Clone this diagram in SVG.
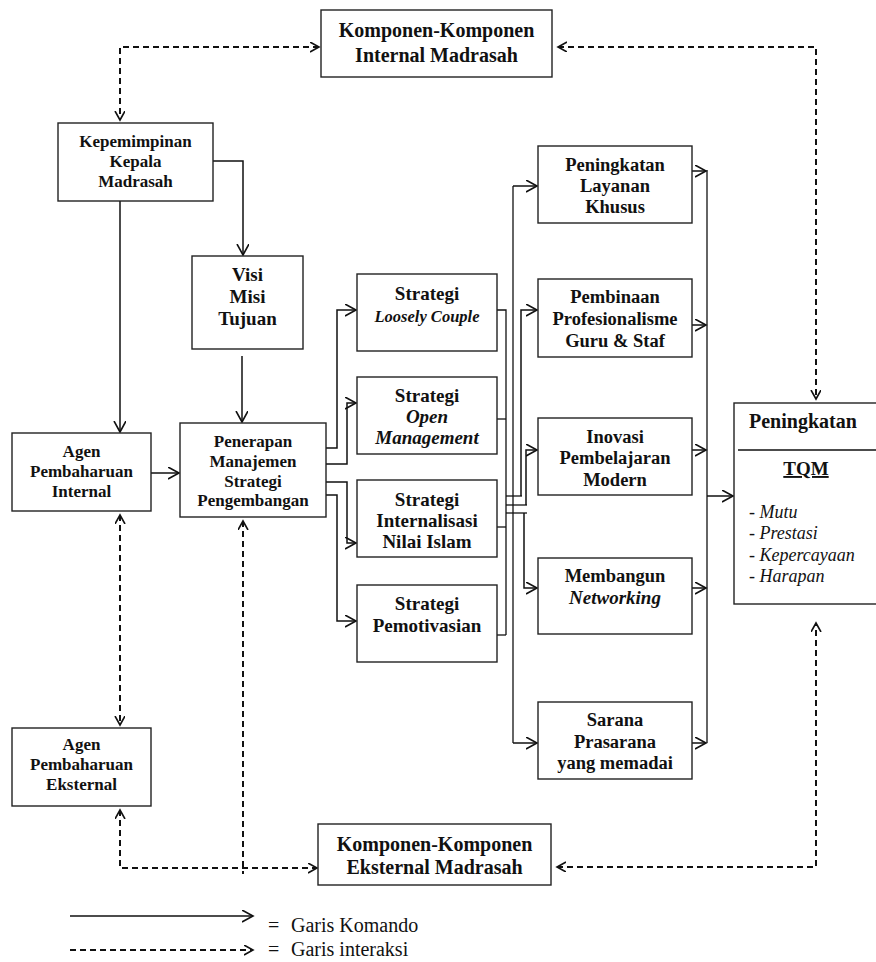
<svg xmlns="http://www.w3.org/2000/svg" width="876" height="962" viewBox="0 0 876 962">
  <style>
    .box { fill: #ffffff; stroke: #222222; stroke-width: 1.4; }
    .t { font-family: "Liberation Serif", "Times New Roman", serif; fill: #111111; text-anchor: middle; font-weight: bold; }
    .s17 { font-size: 17px; }
    .s18 { font-size: 18.5px; }
    .s19 { font-size: 19px; }
    .s20 { font-size: 20px; }
    .it { font-style: italic; }
    .cmd { fill: none; stroke: #111111; stroke-width: 1.5; marker-end: url(#arrow); }
    .ln { fill: none; stroke: #111111; stroke-width: 1.3; }
    .int { fill: none; stroke: #111111; stroke-width: 2; stroke-dasharray: 6 4; marker-start: url(#arrow2); marker-end: url(#arrow2); }
    .legend { font-family: "Liberation Serif", "Times New Roman", serif; font-size: 20px; fill: #111111; }
    .item { font-family: "Liberation Serif", "Times New Roman", serif; font-size: 18px; font-style: italic; fill: #111111; }
  </style>
  <defs>
    <marker id="arrow" markerUnits="userSpaceOnUse" markerWidth="14" markerHeight="14" refX="11" refY="6" orient="auto">
      <path d="M0,0 L11,6 L0,12" fill="none" stroke="#111111" stroke-width="1.6"/>
    </marker>
    <marker id="arrow2" markerUnits="userSpaceOnUse" markerWidth="12" markerHeight="12" refX="9" refY="5" orient="auto-start-reverse">
      <path d="M0,0 L9,5 L0,10" fill="none" stroke="#111111" stroke-width="1.6"/>
    </marker>
  </defs>

  <!-- connectors -->
  <g id="connectors">
    <!-- interaction lines (dashed, both ends) -->
    <path class="int" d="M319,47 H120 V120"/>
    <path class="int" d="M558,47 H816 V399"/>
    <path class="int" d="M120,515 V725"/>
    <path class="int" d="M120,810 V868 H317"/>
    <path class="int" d="M243,521 V874" style="marker-end:none"/>
    <path class="int" d="M557,867 H816 V623"/>

    <!-- command lines -->
    <path class="cmd" d="M213,161 H243 V255"/>
    <path class="cmd" d="M120,201 V432"/>
    <path class="cmd" d="M242,356 V422"/>
    <path class="cmd" d="M151,473 H179"/>

    <!-- from Penerapan to the four strategies -->
    <path class="cmd" d="M322,448 H337 V310 H356"/>
    <path class="cmd" d="M322,464 H347 V403 H356"/>
    <path class="cmd" d="M322,482 H347 V543 H356"/>
    <path class="cmd" d="M322,495 H337 V621 H356"/>

    <!-- strategies collector -->
    <path class="ln" d="M491,310 H506 V635"/>
    <path class="ln" d="M491,419 H506"/>
    <path class="ln" d="M491,527 H506"/>
    <path class="ln" d="M491,635 H506"/>
    <path class="ln" d="M506,496 H522"/>
    <path class="ln" d="M506,505 H527"/>
    <path class="ln" d="M506,513 H527"/>

    <!-- distribution to the five programmes -->
    <path class="ln" d="M513,186 V743"/>
    <path class="cmd" d="M513,186 H537"/>
    <path class="cmd" d="M513,743 H537"/>
    <path class="cmd" d="M521,496 V310 H537"/>
    <path class="cmd" d="M526,505 V450 H537"/>
    <path class="cmd" d="M524,513 V588 H537"/>

    <!-- programmes to TQM -->
    <path class="cmd" d="M692,171 H706"/>
    <path class="cmd" d="M692,325 H706"/>
    <path class="cmd" d="M692,450 H706"/>
    <path class="cmd" d="M692,588 H706"/>
    <path class="cmd" d="M692,743 H706"/>
    <path class="ln" d="M707,170 V743"/>
    <path class="cmd" d="M707,496 H733"/>
  </g>

  <g id="internal-components">
    <rect class="box" x="321" y="10" width="231" height="67"/>
    <text class="t s20" x="436.5" y="37">Komponen-Komponen</text>
    <text class="t s20" x="436.5" y="62">Internal Madrasah</text>
  </g>

  <g id="kepemimpinan">
    <rect class="box" x="58" y="123" width="155" height="78"/>
    <text class="t s17" x="135.5" y="147">Kepemimpinan</text>
    <text class="t s17" x="135.5" y="167">Kepala</text>
    <text class="t s17" x="135.5" y="187">Madrasah</text>
  </g>

  <g id="visi-misi">
    <rect class="box" x="192" y="256" width="111" height="93"/>
    <text class="t s19" x="247.5" y="281">Visi</text>
    <text class="t s19" x="247.5" y="303">Misi</text>
    <text class="t s19" x="247.5" y="325">Tujuan</text>
  </g>

  <g id="agen-internal">
    <rect class="box" x="12" y="433" width="139" height="78"/>
    <text class="t s17" x="81.5" y="457">Agen</text>
    <text class="t s17" x="81.5" y="477">Pembaharuan</text>
    <text class="t s17" x="81.5" y="497">Internal</text>
  </g>

  <g id="penerapan">
    <rect class="box" x="180" y="423" width="146" height="94"/>
    <text class="t s17" x="253" y="447">Penerapan</text>
    <text class="t s17" x="253" y="467">Manajemen</text>
    <text class="t s17" x="253" y="487">Strategi</text>
    <text class="t s17" x="253" y="506">Pengembangan</text>
  </g>

  <g id="agen-eksternal">
    <rect class="box" x="12" y="728" width="139" height="78"/>
    <text class="t s17" x="81.5" y="750">Agen</text>
    <text class="t s17" x="81.5" y="770">Pembaharuan</text>
    <text class="t s17" x="81.5" y="790">Eksternal</text>
  </g>

  <g id="strategi-loosely">
    <rect class="box" x="357" y="274" width="140" height="77"/>
    <text class="t s19" x="427" y="300">Strategi</text>
    <text class="t it" style="font-size:16.5px" x="427" y="322">Loosely Couple</text>
  </g>

  <g id="strategi-open">
    <rect class="box" x="357" y="377" width="140" height="77"/>
    <text class="t s19" x="427" y="402">Strategi</text>
    <text class="t s19 it" x="427" y="423">Open</text>
    <text class="t s19 it" x="427" y="444">Management</text>
  </g>

  <g id="strategi-internalisasi">
    <rect class="box" x="357" y="480" width="140" height="77"/>
    <text class="t s19" x="427" y="506">Strategi</text>
    <text class="t s19" x="427" y="527">Internalisasi</text>
    <text class="t s19" x="427" y="548">Nilai Islam</text>
  </g>

  <g id="strategi-pemotivasian">
    <rect class="box" x="357" y="585" width="140" height="77"/>
    <text class="t s19" x="427" y="610">Strategi</text>
    <text class="t s19" x="427" y="632">Pemotivasian</text>
  </g>

  <g id="layanan-khusus">
    <rect class="box" x="538" y="146" width="154" height="77"/>
    <text class="t s18" x="615" y="171">Peningkatan</text>
    <text class="t s18" x="615" y="192">Layanan</text>
    <text class="t s18" x="615" y="213">Khusus</text>
  </g>

  <g id="pembinaan">
    <rect class="box" x="538" y="279" width="154" height="78"/>
    <text class="t s18" x="615" y="303">Pembinaan</text>
    <text class="t s18" x="615" y="325">Profesionalisme</text>
    <text class="t s18" x="615" y="347">Guru &amp; Staf</text>
  </g>

  <g id="inovasi">
    <rect class="box" x="538" y="418" width="154" height="77"/>
    <text class="t s18" x="615" y="443">Inovasi</text>
    <text class="t s18" x="615" y="464">Pembelajaran</text>
    <text class="t s18" x="615" y="486">Modern</text>
  </g>

  <g id="networking">
    <rect class="box" x="538" y="558" width="154" height="76"/>
    <text class="t s18" x="615" y="582">Membangun</text>
    <text class="t s19 it" x="615" y="604">Networking</text>
  </g>

  <g id="sarana">
    <rect class="box" x="538" y="702" width="154" height="77"/>
    <text class="t s18" x="615" y="726">Sarana</text>
    <text class="t s18" x="615" y="748">Prasarana</text>
    <text class="t s18" x="615" y="769">yang memadai</text>
  </g>

  <g id="tqm">
    <rect class="box" x="734" y="403" width="150" height="201"/>
    <text class="t s20" x="749" y="428" style="text-anchor:start">Peningkatan</text>
    <line x1="738" y1="450" x2="876" y2="450" stroke="#111111" stroke-width="1.6"/>
    <text class="t s19" x="806" y="475" text-decoration="underline">TQM</text>
    <text class="item" x="749" y="518">- Mutu</text>
    <text class="item" x="749" y="539">- Prestasi</text>
    <text class="item" x="749" y="561">- Kepercayaan</text>
    <text class="item" x="749" y="582">- Harapan</text>
  </g>

  <g id="external-components">
    <rect class="box" x="318" y="824" width="233" height="61"/>
    <text class="t s20" x="434.5" y="851">Komponen-Komponen</text>
    <text class="t s20" x="434.5" y="874">Eksternal Madrasah</text>
  </g>

  <g id="legend">
    <path class="cmd" d="M70,916 H253"/>
    <path d="M70,950 H253" fill="none" stroke="#111111" stroke-width="1.8" stroke-dasharray="6 4" marker-end="url(#arrow2)"/>
    <text class="legend" x="268" y="932">=</text>
    <text class="legend" x="291" y="932">Garis Komando</text>
    <text class="legend" x="268" y="956">=</text>
    <text class="legend" x="291" y="956">Garis interaksi</text>
  </g>
</svg>
